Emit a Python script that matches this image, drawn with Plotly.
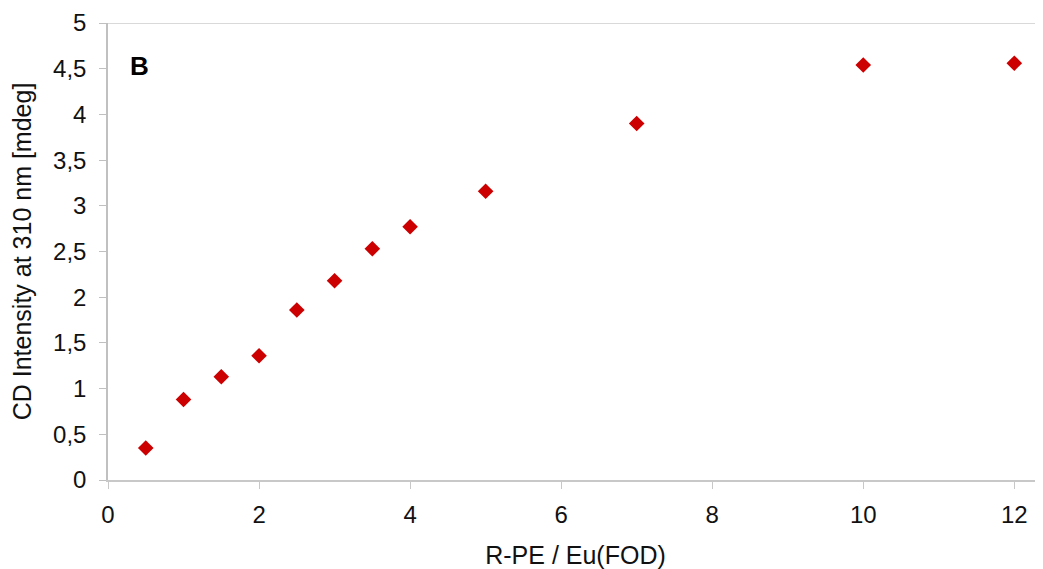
import plotly.graph_objects as go

ratio = [0.5, 1, 1.5, 2, 2.5, 3, 3.5, 4, 5, 7, 10, 12]
cd_intensity = [0.35, 0.88, 1.13, 1.36, 1.86, 2.18, 2.53, 2.77, 3.16, 3.90, 4.54, 4.56]
x_ticks = [0, 2, 4, 6, 8, 10, 12]
y_ticks = [0, 0.5, 1, 1.5, 2, 2.5, 3, 3.5, 4, 4.5, 5]

fig = go.Figure()
fig.add_trace(go.Scatter(
    x=ratio, y=cd_intensity, mode="markers",
    marker=dict(symbol="diamond", size=12, color="#cc0000", line=dict(width=0)),
    showlegend=False,
))

font = dict(family="Liberation Sans, Arial, sans-serif", size=24, color="#111111")
tfont = dict(family="Liberation Sans, Arial, sans-serif", size=25, color="#111111")
fig.update_layout(
    width=1035, height=561,
    margin=dict(l=100, r=0, t=15, b=89),
    paper_bgcolor="white", plot_bgcolor="white",
    separators=", ",
    font=font,
    xaxis=dict(
        range=[0, 12.38], tickvals=x_ticks, showgrid=False, zeroline=False,
        showline=True, linecolor="#c8c8c8", linewidth=1.5,
        ticks="outside", ticklen=7, tickcolor="#c8c8c8",
        ticklabelstandoff=5,
        title=dict(text="R-PE / Eu(FOD)", font=tfont, standoff=20),
        tickfont=font,
    ),
    yaxis=dict(
        range=[0, 5], tickvals=y_ticks, showgrid=False, zeroline=False,
        showline=True, linecolor="#c0c0c0", linewidth=1.5,
        ticks="outside", ticklen=7, tickcolor="#c0c0c0",
        ticklabelstandoff=8,
        title=dict(text="CD Intensity at 310 nm [mdeg]", font=tfont, standoff=14),
        tickfont=font,
    ),
    shapes=[dict(type="line", xref="paper", yref="y", x0=0, x1=1, y0=5, y1=5,
                 line=dict(color="#d9d9d9", width=2))],
    annotations=[dict(text="<b>B</b>", xref="paper", yref="paper", x=0.034, y=0.906,
                      xanchor="center", yanchor="middle",
                      showarrow=False, font=dict(family="Liberation Sans, Arial, sans-serif", size=26, color="black"))],
)

fig.write_html("out.html")
